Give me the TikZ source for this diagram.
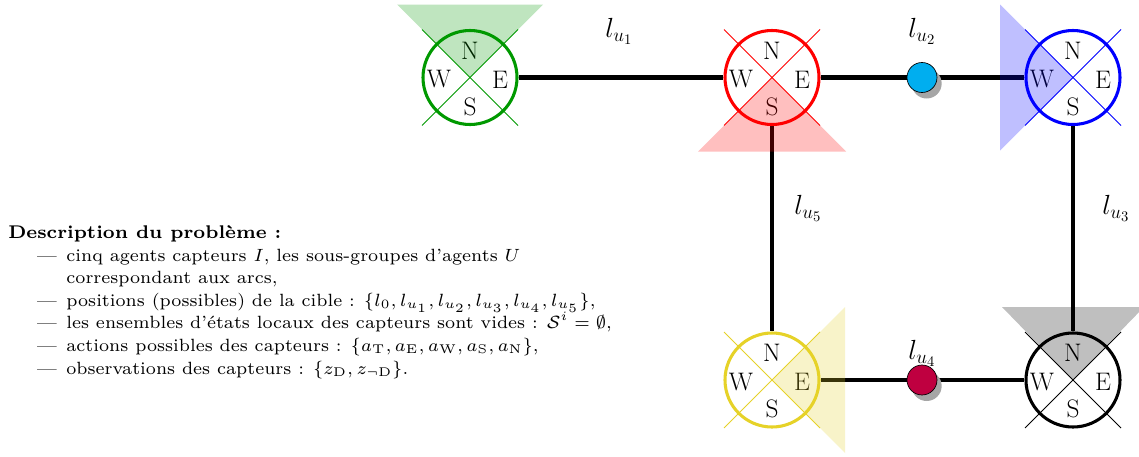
\documentclass[tikz,border=0pt]{standalone}
\usetikzlibrary{shadows}
\definecolor{sgreen}{rgb}{0,0.6,0}
\definecolor{syellow}{RGB}{230,210,40}
\definecolor{tcyan}{RGB}{0,174,239}
\definecolor{tpurple}{rgb}{0.75,0,0.25}
\newcommand\descline[1]{\scalebox{1.9}{\scriptsize #1}}
\newcommand\subl[1]{\mbox{\tiny #1}}
\newcommand\itm{\makebox[11.7pt][l]{---}}
\tikzset{
  sensor/.style={circle, draw=#1, line width=2.3pt, minimum size=70.5pt, inner sep=0pt},
  crossl/.style={draw=#1, line width=0.6pt},
  cone/.style={fill=#1, fill opacity=0.25, draw=none},
  link/.style={line width=3.5pt, draw=black},
  target/.style={circle, draw=black, line width=0.5pt, fill=#1, minimum size=22.5pt, inner sep=0pt,
    drop shadow={shadow xshift=3.5pt, shadow yshift=-4.5pt, fill=black!35, opacity=1}},
  lab/.style={font=\fontsize{21}{25}\selectfont, inner sep=0pt},
  dirl/.style={font=\fontsize{19}{23}\selectfont, inner sep=0pt},
  desc/.style={anchor=base west, inner sep=0pt}
}
\newcommand\sensor[4]{%
  \node[sensor=#4] (#1) at (#2,#3) {};
  \draw[crossl=#4] (#1.center) ++(-48,-48) -- ++(96,96);
  \draw[crossl=#4] (#1.center) ++(48,-48) -- ++(-96,96);
  \path (#1.center) ++(0,-27) node[dirl] (#1n) {N};
  \path (#1.center) ++(0,29) node[dirl] (#1s) {S};
  \path (#1.center) ++(-31,2) node[dirl] (#1w) {W};
  \path (#1.center) ++(30,2) node[dirl] (#1e) {E};
}
\begin{document}
\begin{tikzpicture}[x=0.75pt,y=-0.75pt]
\useasboundingbox[fill=white] (0,0) rectangle (1139,457);
% sensors
\sensor{G}{470}{77.5}{sgreen}
\sensor{R}{772}{77.5}{red}
\sensor{B}{1073}{77.5}{blue}
\sensor{Y}{772}{380}{syellow}
\sensor{K}{1073}{380}{black}
% links
\draw[link] (G) -- (R);
\draw[link] (R) -- (B);
\draw[link] (B) -- (K);
\draw[link] (R) -- (Y);
\draw[link] (Y) -- (K);
% targets
\node[target=tcyan] (t1) at (922,77.5) {};
\node[target=tpurple] (t2) at (922,380) {};
% edge labels
\node[lab] (lu1) at (619,31) {$l_{u_1}$};
\node[lab] (lu2) at (922,31) {$l_{u_2}$};
\node[lab] (lu5) at (808,208) {$l_{u_5}$};
\node[lab] (lu3) at (1116,208) {$l_{u_3}$};
\node[lab] (lu4) at (922,353) {$l_{u_4}$};
% cones
\fill[cone=sgreen] (G.center) -- +(-73,-73) -- +(73,-73) -- cycle;
\fill[cone=red] (R.center) -- +(-74,74) -- +(74,74) -- cycle;
\fill[cone=blue] (B.center) -- +(-73,-73) -- +(-73,73) -- cycle;
\fill[cone=syellow] (Y.center) -- +(73,-73) -- +(73,73) -- cycle;
\fill[cone=black] (K.center) -- +(-71,-73) -- +(71,-73) -- cycle;
% description
\node[desc] (title) at (8,238) {\scalebox{1.97}{\scriptsize\textbf{Description du problème :}}};
\node[desc] (i1) at (36.5,261) {\descline{\itm cinq agents capteurs $I$, les sous-groupes d'agents $U$}};
\node[desc] (i1b) at (36.5,283.5) {\descline{\hspace*{11.7pt}correspondant aux arcs,}};
\node[desc] (i2) at (36.5,306) {\descline{\itm positions (possibles) de la cible : $\{l_0, l_{u_1}, l_{u_2}, l_{u_3}, l_{u_4}, l_{u_5}\}$,}};
\node[desc] (i3) at (36.5,328.5) {\descline{\itm les ensembles d'états locaux des capteurs sont vides : $\mathcal{S}^i = \emptyset$,}};
\node[desc] (i4) at (36.5,351) {\descline{\itm actions possibles des capteurs : $\{a_{\subl{T}}, a_{\subl{E}}, a_{\subl{W}}, a_{\subl{S}}, a_{\subl{N}}\}$,}};
\node[desc] (i5) at (36.5,374) {\descline{\itm observations des capteurs : $\{z_{\subl{D}}, z_{\neg\subl{D}}\}$.}};
\end{tikzpicture}
\end{document}
